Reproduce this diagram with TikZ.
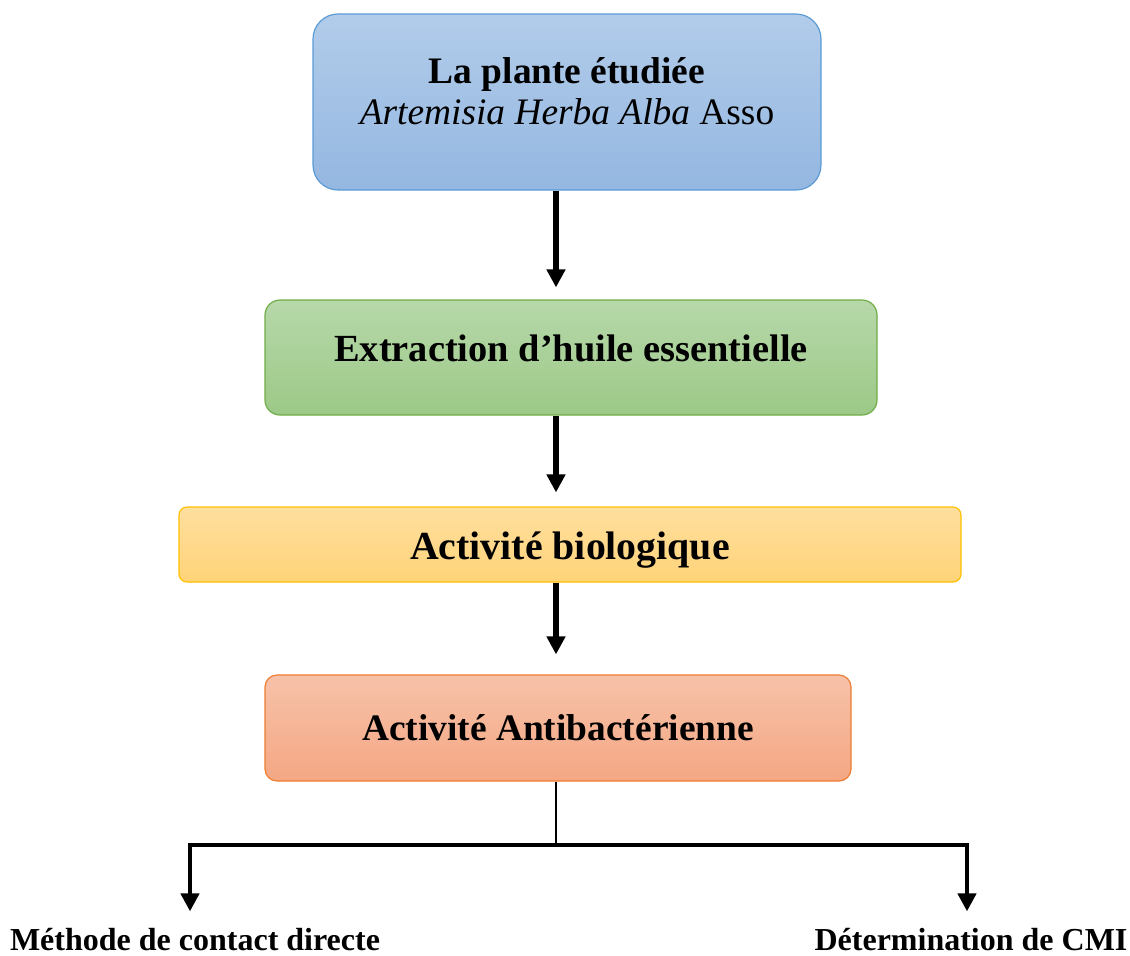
\documentclass[tikz,border=0pt]{standalone}
\usepackage{fontspec}
\setmainfont{Liberation Serif}
\usetikzlibrary{arrows.meta}

\definecolor{bluetp}{HTML}{B2CCEA}
\definecolor{bluebt}{HTML}{94B7E1}
\definecolor{bluedr}{HTML}{5B9BD5}
\definecolor{greentp}{HTML}{B7D8AA}
\definecolor{greenbt}{HTML}{9CC987}
\definecolor{greendr}{HTML}{70AD47}
\definecolor{yeltp}{HTML}{FFDF9F}
\definecolor{yelbt}{HTML}{FFD378}
\definecolor{yeldr}{HTML}{FFC000}
\definecolor{orgtp}{HTML}{F7C2A9}
\definecolor{orgbt}{HTML}{F4A783}
\definecolor{orgdr}{HTML}{ED7D31}

\begin{document}
\begin{tikzpicture}
  [x=0.5pt,y=-0.5pt,
   every node/.style={align=center,font=\bfseries\fontsize{18.7}{20.5}\selectfont},
   bx/.style={rectangle,line width=0.6pt,inner sep=0pt},
   lbl/.style={anchor=base,inner sep=0pt,font=\bfseries\fontsize{16}{18}\selectfont},
   arr/.style={line width=2.8pt,-{Triangle[width=9pt,length=9pt]}}]
  \useasboundingbox (0,0) rectangle (1130,955);
  \node[bx,rounded corners=12.5pt,draw=bluedr,top color=bluetp,bottom color=bluebt,
    minimum width=254pt,minimum height=88pt] (npl) at (567,102)
    {La plante étudiée\\ \mdseries\itshape Artemisia Herba Alba \upshape Asso\rule[-11pt]{0pt}{0pt}};
  \node[bx,rounded corners=7.5pt,draw=greendr,top color=greentp,bottom color=greenbt,
    minimum width=306pt,minimum height=57.5pt,font=\bfseries\fontsize{19.2}{21}\selectfont] (nex) at (571,357.5)
    {Extraction d’huile essentielle\rule[-9pt]{0pt}{0pt}};
  \node[bx,rounded corners=4pt,draw=yeldr,top color=yeltp,bottom color=yelbt,
    minimum width=391pt,minimum height=37.5pt,font=\bfseries\fontsize{19.9}{21}\selectfont] (nac) at (570,544.5)
    {\rule{0pt}{19pt}Activité biologique};
  \node[bx,rounded corners=6pt,draw=orgdr,top color=orgtp,bottom color=orgbt,
    minimum width=293pt,minimum height=53pt] (nab) at (558,728)
    {Activité Antibactérienne};
  \node[lbl] (nmc) at (195,950) {Méthode de contact directe};
  \node[lbl] (ndc) at (971,950) {Détermination de CMI};

  \coordinate (ax) at (556,0);
  \coordinate (bj) at (556,845);
  \coordinate (bl) at (190,845);
  \coordinate (br) at (967,845);
  \draw[arr] (npl.south -| ax) -- ([yshift=6pt]nex.north -| ax);
  \draw[arr] (nex.south -| ax) -- ([yshift=7pt]nac.north -| ax);
  \draw[arr] (nac.south -| ax) -- ([yshift=10pt]nab.north -| ax);
  \draw[line width=1pt] (nab.south -| ax) -- (bj);
  \draw[arr,line width=2.2pt,shorten >=8pt] (bj) -- (bl) -- (bl |- nmc.north);
  \draw[arr,line width=2.2pt,shorten >=8pt] (bj) -- (br) -- (br |- ndc.north);
\end{tikzpicture}
\end{document}
